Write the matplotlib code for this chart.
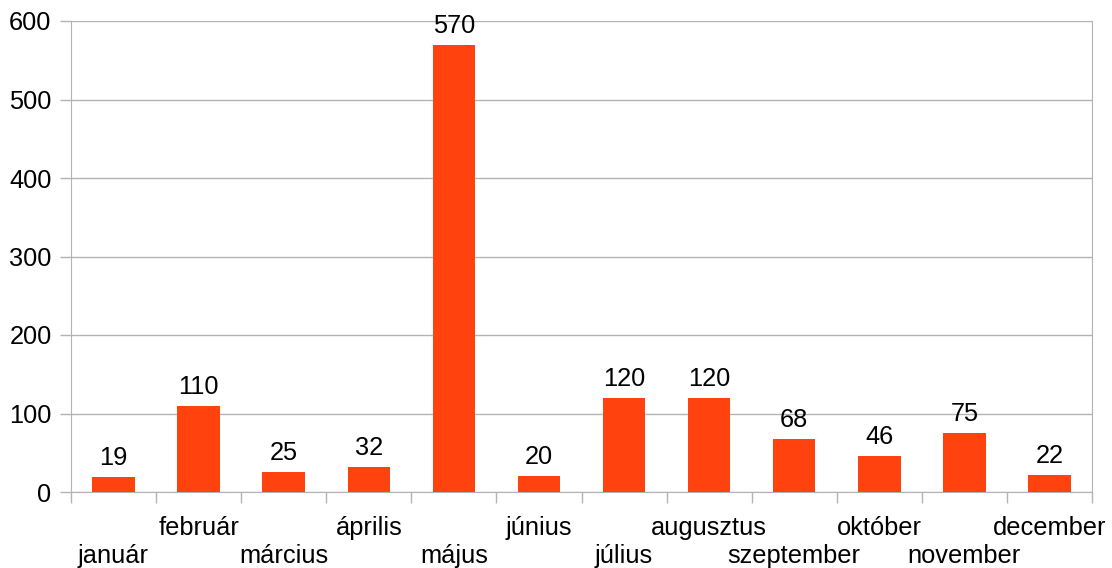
import matplotlib.pyplot as plt
import numpy as np

months = ['január', 'február', 'március', 'április', 'május', 'június',
          'július', 'augusztus', 'szeptember', 'október', 'november', 'december']
values = [19, 110, 25, 32, 570, 20, 120, 120, 68, 46, 75, 22]

plt.rcParams['font.family'] = ['Liberation Sans', 'DejaVu Sans']
grid_col = '#b3b3b3'
fs = 18.3

fig = plt.figure(figsize=(11.12, 5.68), dpi=100)
ax = fig.add_axes([71/1112, 1 - 492/568, 1021/1112, 471/568])

x = np.arange(len(months))
bars = ax.bar(x, values, width=0.5, color='#ff420e', zorder=3)

ax.set_xlim(-0.5, len(months) - 0.5)
ax.set_ylim(0, 600)
ax.set_yticks(range(0, 601, 100))
ax.yaxis.grid(True, color=grid_col, linewidth=1)
ax.set_axisbelow(True)

for s in ['left', 'right', 'bottom']:
    ax.spines[s].set_color(grid_col)
ax.spines['top'].set_visible(False)

ax.tick_params(axis='y', labelsize=fs, length=8, width=1, color=grid_col, pad=6)

# category boundary ticks, labels drawn as staggered text
ax.set_xticks(np.arange(-0.5, len(months)))
ax.set_xticklabels([])
ax.tick_params(axis='x', length=8, width=1, color=grid_col)

trans = ax.get_xaxis_transform()
for i, (m, v) in enumerate(zip(months, values)):
    yy = -0.0913 if i % 2 == 1 else -0.1507
    ax.text(i, yy, m, transform=trans, ha='center', va='baseline', fontsize=fs)
    ax.annotate(str(v), (i, v), xytext=(0, 8.6), textcoords='offset points',
                ha='center', va='baseline', fontsize=fs)

fig.savefig('out.png', dpi=100)
